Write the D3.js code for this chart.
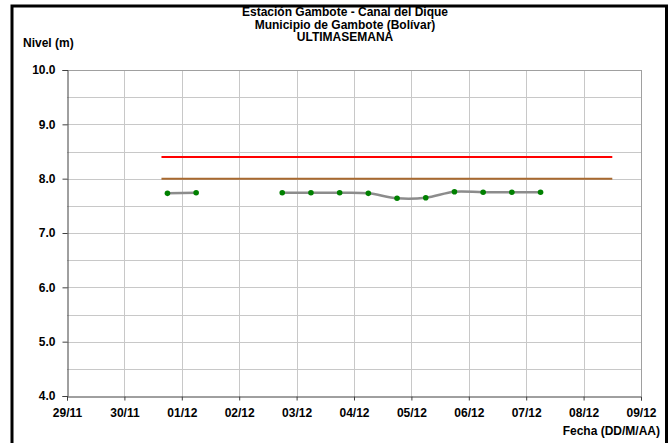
<!DOCTYPE html>
<html>
<head>
<meta charset="utf-8">
<script src="https://cdn.jsdelivr.net/npm/d3@7"></script>
<style>
  body { margin: 0; background: #fff; }
  text { font-family: "Liberation Sans", Arial, sans-serif; font-weight: bold; fill: #000; }
</style>
</head>
<body>
<svg width="669" height="443"></svg>
<script>
// fechas de lectura (cada 12 horas) y niveles en metros
var fechas = ["30/11 18:00", "01/12 06:00", "01/12 18:00", "02/12 06:00", "02/12 18:00", "03/12 06:00",
              "03/12 18:00", "04/12 06:00", "04/12 18:00", "05/12 06:00", "05/12 18:00", "06/12 06:00",
              "06/12 18:00", "07/12 06:00"];
var niveles = [7.73, 7.74, null, null, 7.74, 7.74, 7.74, 7.73, 7.64, 7.65, 7.76, 7.75, 7.75, 7.75];

// cotas de alerta
var cotas = [8.4, 8.0];
var cotaColores = ["#ff0000", "#a8692f"];
var cotaDesde = "30/11 15:30", cotaHasta = "08/12 12:00";

var diasX = ["29/11", "30/11", "01/12", "02/12", "03/12", "04/12", "05/12", "06/12", "07/12", "08/12", "09/12"];
var ticksY = [4, 5, 6, 7, 8, 9, 10];

var parseFecha = d3.timeParse("%Y %d/%m %H:%M");
var parse = s => parseFecha("2011 " + (s.length > 5 ? s : s + " 00:00"));

var svg = d3.select("svg"),
    x0 = 67, x1 = 641, y0 = 396, y1 = 70;

var x = d3.scaleTime()
    .domain([parse(diasX[0]), parse(diasX[diasX.length - 1])])
    .range([x0, x1]);
var y = d3.scaleLinear().domain([4, 10]).range([y0, y1]);

// marco exterior
svg.append("rect")
    .attr("x", 12).attr("y", 6).attr("width", 654.5).attr("height", 445)
    .attr("fill", "none").attr("stroke", "#000").attr("stroke-width", 3);

// rejilla
var grid = svg.append("g");
grid.selectAll("line.gy")
    .data(d3.range(4.5, 10.01, 0.5))
    .enter().append("line")
    .attr("x1", x0).attr("x2", x1)
    .attr("y1", d => Math.round(y(d)) + 0.5).attr("y2", d => Math.round(y(d)) + 0.5)
    .attr("stroke", "#c8c8c8");
grid.selectAll("line.gx")
    .data(diasX.slice(1))
    .enter().append("line")
    .attr("x1", d => Math.round(x(parse(d))) + 0.5).attr("x2", d => Math.round(x(parse(d))) + 0.5)
    .attr("y1", y1).attr("y2", y0)
    .attr("stroke", "#c8c8c8");
svg.append("line")
    .attr("x1", x1 + 0.5).attr("x2", x1 + 0.5).attr("y1", y1).attr("y2", y0)
    .attr("stroke", "#a0a0a0");
svg.append("line")
    .attr("x1", x0).attr("x2", x1).attr("y1", y1 + 0.5).attr("y2", y1 + 0.5)
    .attr("stroke", "#a0a0a0");

// ejes
var ejeY = svg.append("g")
    .attr("transform", "translate(" + (x0 + 0.5) + ",0)")
    .call(d3.axisLeft(y).tickValues(ticksY).tickFormat(d3.format(".1f")).tickSize(5).tickPadding(7));
var ejeX = svg.append("g")
    .attr("transform", "translate(0," + (y0 + 0.5) + ")")
    .call(d3.axisBottom(x).tickValues(diasX.map(parse)).tickFormat(d3.timeFormat("%d/%m")).tickSize(4).tickPadding(8));
[ejeY, ejeX].forEach(g => {
    g.select(".domain").attr("stroke", "#404040");
    g.selectAll(".tick line").attr("stroke", "#404040");
    g.selectAll("text").attr("font-size", 12).attr("font-family", "Liberation Sans, Arial").attr("font-weight", "bold").attr("fill", "#000");
});

// cotas
svg.selectAll("line.cota")
    .data(cotas)
    .enter().append("line")
    .attr("x1", x(parse(cotaDesde))).attr("x2", x(parse(cotaHasta)))
    .attr("y1", d => y(d)).attr("y2", d => y(d))
    .attr("stroke", (d, i) => cotaColores[i]).attr("stroke-width", 2);

// serie
var datos = fechas.map((f, i) => ({ t: parse(f), v: niveles[i] }));
var linea = d3.line()
    .defined(d => d.v != null)
    .x(d => x(d.t)).y(d => y(d.v))
    .curve(d3.curveCatmullRom);
svg.append("path")
    .datum(datos)
    .attr("d", linea)
    .attr("fill", "none").attr("stroke", "#8c8c8c").attr("stroke-width", 2.5);
svg.selectAll("circle.pt")
    .data(datos.filter(d => d.v != null))
    .enter().append("circle")
    .attr("cx", d => x(d.t)).attr("cy", d => y(d.v))
    .attr("r", 2.8).attr("fill", "#008000");

// textos
var titulo = ["Estación Gambote - Canal del Dique", "Municipio de Gambote (Bolívar)", "ULTIMASEMANA"];
svg.selectAll("text.tit")
    .data(titulo)
    .enter().append("text")
    .attr("x", 345).attr("y", (d, i) => 16 + i * 12.5)
    .attr("text-anchor", "middle").attr("font-size", 12)
    .text(d => d);
svg.append("text").attr("x", 23).attr("y", 47).attr("font-size", 12).text("Nivel (m)");
svg.append("text").attr("x", 660).attr("y", 435).attr("text-anchor", "end").attr("font-size", 12).text("Fecha (DD/M/AA)");
</script>
</body>
</html>
